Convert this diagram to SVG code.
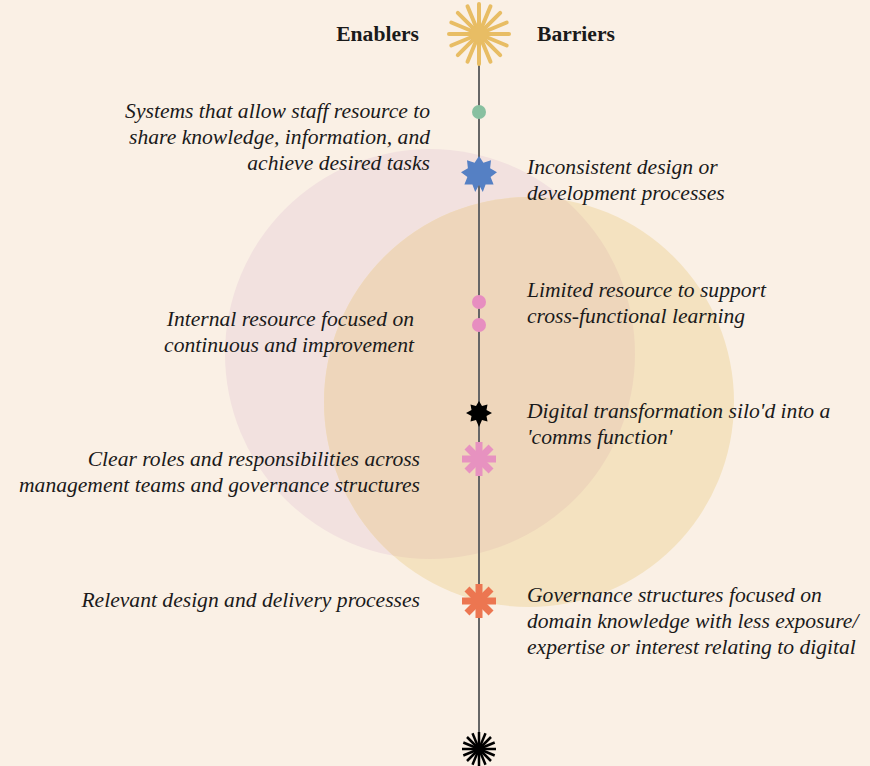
<svg xmlns="http://www.w3.org/2000/svg" width="870" height="766" viewBox="0 0 870 766">
<defs>
<style>
.t{font-family:"Liberation Serif","Times New Roman",serif;font-style:italic;font-size:21.6px;fill:#1a1a1a}
.h{font-family:"Liberation Serif","Times New Roman",serif;font-weight:bold;font-size:21.6px;fill:#1a1a1a}
.l{text-anchor:end}
</style>
<clipPath id="pc"><circle cx="430" cy="354" r="205"/></clipPath>
</defs>
<rect width="870" height="766" fill="#FAF0E5"/>
<g id="venn">
<circle cx="430" cy="354" r="205" fill="#F2E1DF"/>
<circle cx="529" cy="402" r="205" fill="#F4E2C0"/>
<circle cx="529" cy="402" r="205" fill="#EED6BB" clip-path="url(#pc)"/>
</g>
<g id="connectors">
<line x1="479" y1="60" x2="479" y2="745" stroke="#666" stroke-width="2"/>
</g>
<g id="top-burst" stroke="#E8BD64" stroke-width="4" stroke-linecap="round">
<line x1="479" y1="4" x2="479" y2="64"/>
<line x1="449" y1="34" x2="509" y2="34"/>
<line x1="467.5" y1="6.3" x2="490.5" y2="61.7"/>
<line x1="490.5" y1="6.3" x2="467.5" y2="61.7"/>
<line x1="457.8" y1="12.8" x2="500.2" y2="55.2"/>
<line x1="500.2" y1="12.8" x2="457.8" y2="55.2"/>
<line x1="451.3" y1="22.5" x2="506.7" y2="45.5"/>
<line x1="506.7" y1="22.5" x2="451.3" y2="45.5"/>
<circle cx="479" cy="34" r="9" fill="#E8BD64" stroke="none"/>
</g>
<g id="n1"><circle cx="479" cy="112" r="7" fill="#88C0A0"/>
<text class="t l" x="430" y="118">Systems that allow staff resource to</text>
<text class="t l" x="430" y="144">share knowledge, information, and</text>
<text class="t l" x="430" y="170">achieve desired tasks</text></g>
<g id="n2"><polygon fill="#5580C4" points="479,156 483.4,162.7 491,160.2 490.1,168.2 497,172.3 490.6,177.1 493.6,184.6 485.6,184.5 482.8,192 479,185 475.2,192 472.4,184.5 464.4,184.6 467.4,177.1 461,172.3 467.9,168.2 467,160.2 474.6,162.7"/>
<text class="t" x="527" y="174">Inconsistent design or</text>
<text class="t" x="527" y="200">development processes</text></g>
<g id="n3"><circle cx="479" cy="302" r="7" fill="#E78EC0"/><circle cx="479" cy="325" r="7" fill="#E78EC0"/>
<text class="t" x="527" y="297">Limited resource to support</text>
<text class="t" x="527" y="323">cross-functional learning</text>
<text class="t l" x="414" y="326">Internal resource focused on</text>
<text class="t l" x="414" y="352">continuous and improvement</text></g>
<g id="n4"><polygon fill="#000" points="479,401 482,406 487.5,404.5 486.5,410 492,413 486.5,416 487.5,421.5 482,420 479,427 476,420 470.5,421.5 471.5,416 466,413 471.5,410 470.5,404.5 476,406"/>
<text class="t" x="527" y="418">Digital transformation silo'd into a</text>
<text class="t" x="527" y="444">'comms function'</text></g>
<g id="n5" fill="#E792C0"><g transform="translate(479 459)"><rect x="-3.5" y="-17" width="7" height="34"/><rect x="-3.5" y="-17" width="7" height="34" transform="rotate(45)"/><rect x="-3.5" y="-17" width="7" height="34" transform="rotate(90)"/><rect x="-3.5" y="-17" width="7" height="34" transform="rotate(135)"/></g>
<text class="t l" x="420" y="466" fill="#1a1a1a">Clear roles and responsibilities across</text>
<text class="t l" x="420" y="492">management teams and governance structures</text></g>
<g id="n6" fill="#EC7651"><g transform="translate(479 601)"><rect x="-3.5" y="-17" width="7" height="34"/><rect x="-3.5" y="-17" width="7" height="34" transform="rotate(45)"/><rect x="-3.5" y="-17" width="7" height="34" transform="rotate(90)"/><rect x="-3.5" y="-17" width="7" height="34" transform="rotate(135)"/></g>
<text class="t l" x="420" y="607">Relevant design and delivery processes</text>
<text class="t" x="527" y="602">Governance structures focused on</text>
<text class="t" x="527" y="628">domain knowledge with less exposure/</text>
<text class="t" x="527" y="654">expertise or interest relating to digital</text></g>
<g id="bottom-burst" stroke="#000" stroke-width="2.5">
<line x1="479" y1="732" x2="479" y2="766"/>
<line x1="462" y1="749" x2="496" y2="749"/>
<line x1="472.5" y1="733.3" x2="485.5" y2="764.7"/>
<line x1="485.5" y1="733.3" x2="472.5" y2="764.7"/>
<line x1="467" y1="737" x2="491" y2="761"/>
<line x1="491" y1="737" x2="467" y2="761"/>
<line x1="463.3" y1="742.5" x2="494.7" y2="755.5"/>
<line x1="494.7" y1="742.5" x2="463.3" y2="755.5"/>
<circle cx="479" cy="749" r="4" fill="#000" stroke="none"/>
</g>
<g id="headers">
<text class="h l" x="419" y="41">Enablers</text>
<text class="h" x="537" y="41">Barriers</text>
</g>
</svg>
